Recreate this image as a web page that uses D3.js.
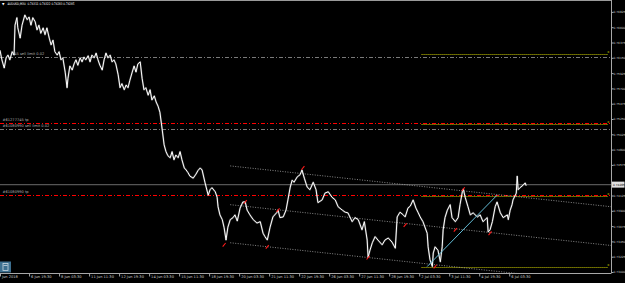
<!DOCTYPE html>
<html>
<head>
<meta charset="utf-8">
<script src="https://cdn.jsdelivr.net/npm/d3@7"></script>
<style>
body{margin:0;background:#000;overflow:hidden;}
svg{display:block;}
text{font-family:"DejaVu Sans",Tahoma,sans-serif;}
</style>
</head>
<body>
<div id="chart"></div>
<script>

// AUDUSD M30, one point every few bars (bar number from the left edge, price)
var barNo = [0,4,9,13,17,21,26,30,32,36,38,43,47,53,58,62,66,70,75,79,
  83,87,92,96,100,105,109,113,117,122,126,130,134,139,143,145,149,154,158,162,
  166,171,175,179,183,188,192,196,201,205,209,213,218,222,226,230,235,239,243,247,
  252,256,260,265,269,273,277,282,286,290,294,299,303,307,311,316,320,324,329,333,
  337,341,346,350,354,358,363,367,371,375,380,384,388,393,397,401,405,412,418,422,
  427,431,437,444,448,452,459,463,465,469,474,478,482,486,491,497,501,506,512,518,
  523,527,533,540,548,555,561,565,570,576,582,591,593,597,604,610,614,619,623,627,
  634,640,644,649,655,661,668,674,678,687,693,700,708,715,721,730,736,742,751,757,
  764,772,777,783,785,789,794,800,806,815,821,828,836,843,847,853,860,864,870,875,
  881,887,892,896,902,911,913,917,922,924,928,934,939,943,945,949,954,960,964,971,
  977,981,986,988,992,998,1003,1009,1018,1024,1030,1039,1041,1045,1050,1056,1060,1067,1073,1082,
  1084,1088,1092,1094,1099,1101,1103,1105,1109,1116,1120,1122];

var closePrice = [0.7626,0.7612,0.7600,0.7615,0.7619,0.7612,0.7624,0.7619,0.7663,0.7674,0.7659,0.7644,0.7663,0.7678,0.7671,0.7675,0.7663,0.7674,0.7668,0.7656,
  0.7663,0.7651,0.7659,0.7649,0.7659,0.7644,0.7634,0.7641,0.7624,0.7619,0.7624,0.7612,0.7615,0.7594,0.7571,0.7585,0.7603,0.7597,0.7606,0.7612,
  0.7604,0.7615,0.7609,0.7616,0.7612,0.7618,0.7609,0.7619,0.7615,0.7622,0.7612,0.7604,0.7597,0.7612,0.7622,0.7615,0.7619,0.7609,0.7612,0.7606,
  0.7590,0.7571,0.7577,0.7568,0.7575,0.7571,0.7582,0.7594,0.7603,0.7594,0.7606,0.7609,0.7585,0.7568,0.7571,0.7560,0.7568,0.7553,0.7559,0.7550,
  0.7544,0.7535,0.7509,0.7487,0.7477,0.7471,0.7468,0.7477,0.7465,0.7472,0.7468,0.7477,0.7465,0.7453,0.7450,0.7446,0.7441,0.7438,0.7444,0.7449,
  0.7453,0.7450,0.7432,0.7413,0.7421,0.7424,0.7418,0.7410,0.7396,0.7384,0.7377,0.7365,0.7347,0.7366,0.7377,0.7380,0.7384,0.7375,0.7394,0.7403,
  0.7403,0.7391,0.7384,0.7377,0.7372,0.7374,0.7357,0.7352,0.7347,0.7366,0.7381,0.7388,0.7391,0.7380,0.7381,0.7391,0.7406,0.7425,0.7435,0.7432,
  0.7440,0.7443,0.7450,0.7438,0.7425,0.7421,0.7432,0.7421,0.7402,0.7406,0.7416,0.7418,0.7410,0.7406,0.7396,0.7391,0.7388,0.7387,0.7374,0.7380,
  0.7377,0.7362,0.7374,0.7347,0.7322,0.7332,0.7343,0.7352,0.7347,0.7340,0.7347,0.7350,0.7344,0.7335,0.7381,0.7388,0.7384,0.7381,0.7394,0.7397,
  0.7406,0.7394,0.7387,0.7381,0.7374,0.7357,0.7337,0.7318,0.7308,0.7328,0.7337,0.7332,0.7315,0.7337,0.7362,0.7380,0.7391,0.7399,0.7380,0.7374,
  0.7380,0.7399,0.7418,0.7422,0.7410,0.7396,0.7384,0.7387,0.7381,0.7384,0.7374,0.7380,0.7359,0.7362,0.7374,0.7396,0.7403,0.7387,0.7380,0.7384,
  0.7377,0.7391,0.7399,0.7406,0.7413,0.7416,0.7441,0.7421,0.7424,0.7428,0.7431,0.7427];

var titleText = "AUDUSD,M30  0.74311 0.74322 0.74283 0.74285";
var bidPrice = 0.74285;

// order lines
var orderPrices = [0.7616, 0.7519, 0.7510, 0.7413];
var orderLabels = ["745 sell limit 0.02", "#61277745 tp", "#61080990 sell limit 0.02", "#61080990 tp"];
var orderIsTp = [false, true, false, true];

// yellow dotted levels
var levelPrices = [0.7621, 0.7518, 0.7412, 0.7308];
var levelStartBar = 899;

// equidistant channel and trend line
var channelBars = [491, 1303];
var channelPrices = [0.7456, 0.7396];
var channelShift = [0, -0.0057, -0.0113];
var trendBars = [911, 1060];
var trendPrices = [0.7308, 0.7413];

// small red arrows
var markBars = [478, 523, 570, 593, 646, 785, 864, 928, 971, 988, 1045];
var markPrices = [0.7340, 0.7403, 0.7337, 0.7391, 0.7453, 0.7321, 0.7369, 0.7308, 0.7362, 0.7422, 0.7357];

var priceTicks = [0.76825,0.76600,0.76375,0.76150,0.75925,0.75700,0.75475,0.75250,0.75025,0.74800,0.74575,0.74125,0.73900,0.73675,0.73450,0.73225,0.73000];
var timeBars = [0,62,126,190,254,318,382,446,510,574,638,702,766,830,894,958,1022,1086];
var timeLabels = ["Jun 2018","6 Jun 19:30","8 Jun 03:30","11 Jun 11:30","12 Jun 19:30","14 Jun 03:30","15 Jun 11:30","18 Jun 19:30","20 Jun 03:30","21 Jun 11:30","22 Jun 19:30","26 Jun 03:30","27 Jun 11:30","28 Jun 19:30","2 Jul 03:30","3 Jul 11:30","4 Jul 19:30","6 Jul 03:30"];


var W = 625, H = 283;
var right = 611, bottom = 273;
var fs = 3.6;

var svg = d3.select("#chart").append("svg")
    .attr("width", W)
    .attr("height", H)
    .style("background", "#000");

var x = d3.scaleLinear().domain([0, 1303]).range([0, right]);
var y = d3.scaleLinear().domain([0.73, 0.77]).range([272, 0]);

svg.append("clipPath").attr("id", "clip")
  .append("rect").attr("x", 0).attr("y", 0).attr("width", right).attr("height", bottom);

var plot = svg.append("g").attr("clip-path", "url(#clip)");

// frame top
plot.append("line").attr("x1", 0).attr("x2", right).attr("y1", 0.5).attr("y2", 0.5)
  .attr("stroke", "#9a9a9a").attr("stroke-width", 1);

// bid line
plot.append("line")
  .attr("x1", 0).attr("x2", right)
  .attr("y1", y(bidPrice)).attr("y2", y(bidPrice))
  .attr("stroke", "#555555").attr("stroke-width", 1.4);

// order lines + labels
orderPrices.forEach(function(p, i){
  plot.append("line")
    .attr("x1", 0).attr("x2", right)
    .attr("y1", Math.round(y(p)) + 0.5).attr("y2", Math.round(y(p)) + 0.5)
    .attr("stroke", orderIsTp[i] ? "#ff0000" : "#7a7a7a")
    .attr("stroke-width", 1)
    .attr("stroke-dasharray", "4,2,1,2");
  plot.append("text")
    .attr("x", i == 0 ? 12 : 2.5)
    .attr("y", y(p) - 2.2)
    .attr("font-size", fs)
    .attr("fill", "#b0b0b0")
    .text(orderLabels[i]);
});

// yellow dotted levels
levelPrices.forEach(function(p){
  plot.append("line")
    .attr("x1", x(levelStartBar)).attr("x2", 608)
    .attr("y1", Math.round(y(p)) + 0.5).attr("y2", Math.round(y(p)) + 0.5)
    .attr("stroke", "#d0d000").attr("stroke-width", 1)
    .attr("stroke-dasharray", "1,1");
  plot.append("text")
    .attr("x", 607.2).attr("y", y(p) - 0.8)
    .attr("font-size", fs).attr("fill", "#d0d000")
    .text("x");
});

// channel lines (rays to the right)
channelShift.forEach(function(s){
  plot.append("line")
    .attr("x1", x(channelBars[0])).attr("y1", y(channelPrices[0] + s))
    .attr("x2", x(channelBars[1])).attr("y2", y(channelPrices[1] + s))
    .attr("stroke", "#a8a8a8").attr("stroke-width", 0.8)
    .attr("stroke-dasharray", "1,1.5");
});

// price line
var line = d3.line()
  .x(function(d){ return x(d[0]); })
  .y(function(d){ return y(d[1]); });

var pts = barNo.map(function(b, i){ return [b, closePrice[i]]; });

plot.append("path")
  .datum(pts)
  .attr("d", line)
  .attr("fill", "none")
  .attr("stroke", "#bdbdbd")
  .attr("stroke-width", 1.9)
  .attr("stroke-opacity", 0.35)
  .attr("stroke-linejoin", "round");
plot.append("path")
  .datum(pts)
  .attr("d", line)
  .attr("fill", "none")
  .attr("stroke", "#ffffff")
  .attr("stroke-width", 1)
  .attr("stroke-linejoin", "round");

// trend line
plot.append("line")
  .attr("x1", x(trendBars[0])).attr("y1", y(trendPrices[0]))
  .attr("x2", x(trendBars[1])).attr("y2", y(trendPrices[1]))
  .attr("stroke", "#63bcd6").attr("stroke-width", 1);

// red arrows
markBars.forEach(function(b, i){
  var cx = x(b), cy = y(markPrices[i]);
  plot.append("line")
    .attr("x1", cx - 1.5).attr("y1", cy + 1.8)
    .attr("x2", cx + 1.5).attr("y2", cy - 1.8)
    .attr("stroke", "#ff1a1a").attr("stroke-width", 1.1);
});

// title
svg.append("text").attr("x", 2).attr("y", 5.2).attr("font-size", 3.2).attr("fill", "#ffffff").text("\u25BC");
svg.append("text").attr("x", 7.5).attr("y", 5.3).attr("font-size", 3.3).attr("fill", "#ffffff")
  .attr("textLength", 67).attr("lengthAdjust", "spacingAndGlyphs")
  .attr("xml:space", "preserve").text(titleText);

// price axis
var yAxis = d3.axisRight(y)
  .tickValues(priceTicks)
  .tickSize(2)
  .tickFormat(d3.format(".5f"));

var yAxisGroup = svg.append("g")
  .attr("transform", "translate(" + (right + 0.5) + ",0)")
  .call(yAxis);
yAxisGroup.select(".domain").attr("stroke", "#a8a8a8").attr("d", "M0,0V" + bottom);
yAxisGroup.selectAll(".tick line").attr("stroke", "#a8a8a8");
yAxisGroup.selectAll(".tick text").attr("x", 2).attr("font-size", 2.9).attr("fill", "#cfcfcf")
  .attr("font-family", "Liberation Sans");

// bid price box
svg.append("rect").attr("x", right + 1).attr("y", y(bidPrice) - 3).attr("width", 12.5).attr("height", 6)
  .attr("fill", "#e0e0e0");
svg.append("text").attr("x", right + 2).attr("y", y(bidPrice) + 1.1)
  .attr("font-size", 2.9).attr("fill", "#000")
  .attr("font-family", "Liberation Sans")
  .text(d3.format(".5f")(bidPrice));

// time axis
var xAxis = d3.axisBottom(x)
  .tickValues(timeBars)
  .tickSize(3)
  .tickFormat(function(d, i){ return timeLabels[i]; });

var xAxisGroup = svg.append("g")
  .attr("transform", "translate(0," + (bottom + 0.5) + ")")
  .call(xAxis);
xAxisGroup.select(".domain").attr("stroke", "#a8a8a8").attr("d", "M0,0H" + (right + 0.5));
xAxisGroup.selectAll(".tick line").attr("stroke", "#a8a8a8");
xAxisGroup.selectAll(".tick text")
  .attr("text-anchor", "start")
  .attr("x", 1.5).attr("y", 2.2).attr("dy", "0.71em")
  .attr("font-size", fs).attr("fill", "#cfcfcf")
  .attr("font-family", "DejaVu Sans");

// little calculator button
svg.append("rect").attr("x", 0).attr("y", 261.5).attr("width", 11).attr("height", 11)
  .attr("fill", "#3d6f8f");
svg.append("rect").attr("x", 3).attr("y", 263.5).attr("width", 5).attr("height", 7)
  .attr("fill", "none").attr("stroke", "#c9d6df").attr("stroke-width", 0.8);
svg.append("line").attr("x1", 3.5).attr("x2", 7.5).attr("y1", 265.5).attr("y2", 265.5)
  .attr("stroke", "#c9d6df").attr("stroke-width", 0.8);

</script>
</body>
</html>
